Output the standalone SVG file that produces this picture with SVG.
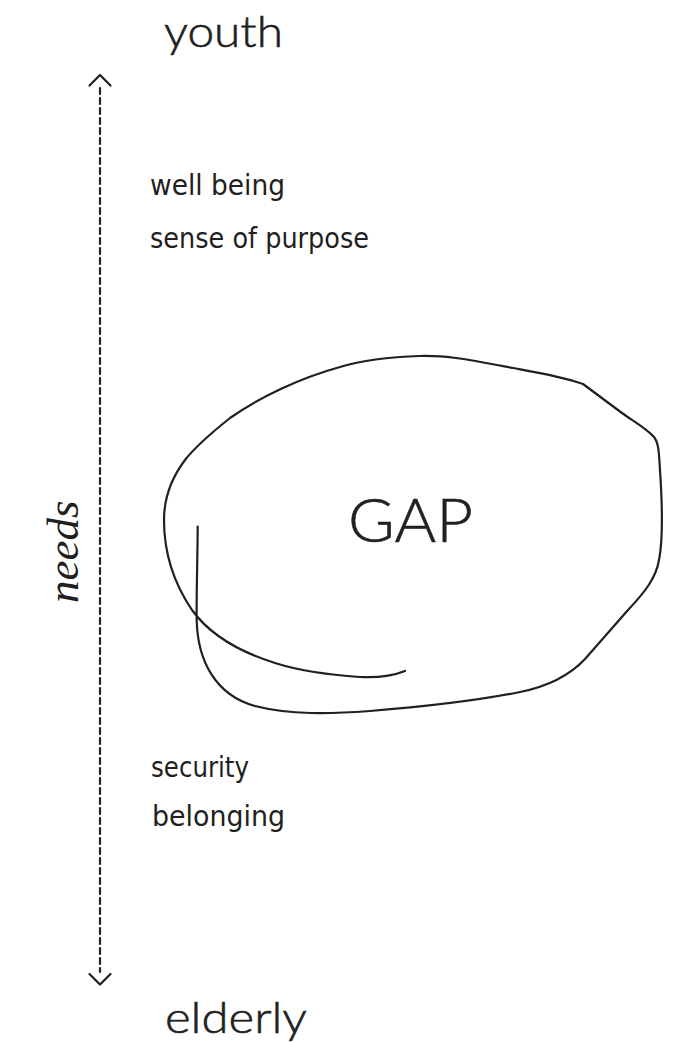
<svg xmlns="http://www.w3.org/2000/svg" width="675" height="1042" viewBox="0 0 675 1042">
<style>
.axis{font-family:"Lato","Noto Sans",sans-serif;font-weight:300;fill:#231f20;stroke:#231f20;stroke-width:0.6}
.lbl{font-family:"DejaVu Sans Condensed","DejaVu Sans",sans-serif;font-size:28px;fill:#231f20}
.ital{font-family:"Liberation Serif",serif;font-style:italic;font-size:45px;fill:#231f20}
.ln{fill:none;stroke:#231f20;stroke-width:2.2;stroke-linecap:round;stroke-linejoin:round}
</style>
<rect width="675" height="1042" fill="#ffffff"/>
<g id="connectors">
  <line class="ln" x1="100" y1="88" x2="100" y2="972" stroke-dasharray="6 4" stroke-linecap="butt"/>
  <polyline class="ln" points="89.5,85.5 100,75 110.5,85.5"/>
  <polyline class="ln" points="89.5,974 100,984.5 110.5,974"/>
</g>
<g id="youth"><text class="axis" x="164" y="47" font-size="44" textLength="119" lengthAdjust="spacingAndGlyphs">youth</text></g>
<g id="elderly"><text class="axis" x="165" y="1033" font-size="44" textLength="142" lengthAdjust="spacingAndGlyphs">elderly</text></g>
<g id="needs"><text class="ital" x="78" y="603" transform="rotate(-90 78 603)">needs</text></g>
<g id="top-needs">
  <text class="lbl" x="150" y="195" textLength="135" lengthAdjust="spacingAndGlyphs">well being</text>
  <text class="lbl" x="150" y="248" textLength="219" lengthAdjust="spacingAndGlyphs">sense of purpose</text>
</g>
<g id="bottom-needs">
  <text class="lbl" x="151" y="777" textLength="98" lengthAdjust="spacingAndGlyphs">security</text>
  <text class="lbl" x="152" y="826" textLength="133" lengthAdjust="spacingAndGlyphs">belonging</text>
</g>
<g id="gap">
  <path class="ln" d="M197.7,526.7 C197.5,560 196.3,595 196.7,620 C197.5,660 215,695 255,706 C290,715 330,714 370,711 C420,707 480,700 520,692 C550,686 570,675 585,659 L628,610 C645,592 656,578 659,560 C663,540 662,500 660,470 C659,455 659,443 654,437 C646,428 633,421 622,413 L583,384 C560,376 535,372 513,368 C480,362 450,355 420,356 C390,357 360,361 340,367 C300,378 260,397 230,418 C210,434 195,447 185,460 C170,480 164,500 164,520 C164,555 175,585 192,610 C210,635 240,652 275,663 C300,671 330,675 360,677 C380,678 395,675 405,671"/>
  <text class="axis" x="348" y="542" font-size="62" textLength="125" lengthAdjust="spacingAndGlyphs">GAP</text>
</g>
</svg>
